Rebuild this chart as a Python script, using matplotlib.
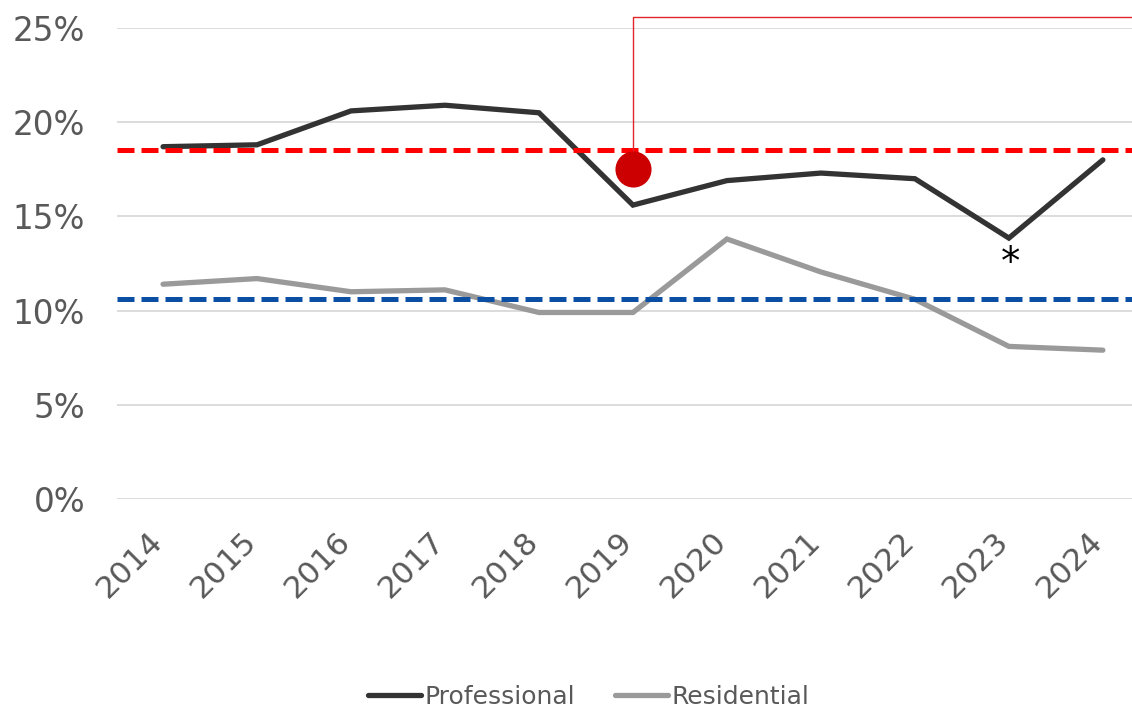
import matplotlib
matplotlib.use("Agg")
import matplotlib.pyplot as plt
import matplotlib.transforms as mtransforms
from matplotlib.ticker import FuncFormatter

years = ["2014", "2015", "2016", "2017", "2018", "2019", "2020", "2021", "2022", "2023", "2024"]
professional = [18.7, 18.8, 20.6, 20.9, 20.5, 15.6, 16.9, 17.3, 17.0, 13.85, 18.0]
residential = [11.4, 11.7, 11.0, 11.1, 9.9, 9.9, 13.8, 12.05, 10.6, 8.1, 7.9]
prof_avg = 18.55
res_avg = 10.6
highlight_idx = 5
highlight_val = 17.5
callout_top = 25.6
asterisk_idx = 9
yticks = [0, 5, 10, 15, 20, 25]

plt.rcParams['font.family'] = ['DejaVu Sans']
fig = plt.figure(figsize=(11.32, 7.07), dpi=100)
W, H = 1132, 707
ax = fig.add_axes([117 / W, (H - 499) / H, (1132 - 117) / W, (499 - 28) / H])

x = list(range(len(years)))
ax.set_xlim(-0.49, 10.31)
ax.set_ylim(0, 25)

for y in yticks:
    ax.axhline(y, color='#d9d9d9', lw=1.3, zorder=0)

ax.plot(x, professional, color='#333333', lw=3.8, solid_capstyle='round',
        solid_joinstyle='miter', label='Professional', zorder=3)
ax.plot(x, residential, color='#9a9a9a', lw=3.8, solid_capstyle='round',
        solid_joinstyle='miter', label='Residential', zorder=3)

ax.axhline(prof_avg, color='#ff0000', lw=3.6, dashes=(3.4, 1.4), zorder=4)
ax.axhline(res_avg, color='#0a4fa3', lw=3.6, dashes=(3.4, 1.4), zorder=4)

# callout line
ax.plot([highlight_idx, highlight_idx, 11.5], [highlight_val, callout_top, callout_top],
        color='#e3242b', lw=1.0, clip_on=False, zorder=5)
ax.plot([highlight_idx], [highlight_val], 'o', color='#cc0000', ms=26, mec='none', zorder=6)

ax.annotate('*', xy=(asterisk_idx, professional[asterisk_idx]), xytext=(1, -4),
            textcoords='offset points', ha='center', va='top', fontsize=28, color='black')

ax.set_yticks(yticks)
ax.yaxis.set_major_formatter(FuncFormatter(lambda v, p: f"{int(v)}%"))
ax.set_xticks(x)
ax.set_xticklabels(years, rotation=45, ha='right', va='center', rotation_mode='anchor')
ax.tick_params(axis='both', length=0, labelcolor='#595959')
ax.tick_params(axis='y', pad=23, labelsize=23.5)
ax.tick_params(axis='x', pad=27, labelsize=22.5)
offset = mtransforms.ScaledTranslation(-5 / 100, 0, fig.dpi_scale_trans)
for lab in ax.get_xticklabels():
    lab.set_transform(lab.get_transform() + offset)

for s in ax.spines.values():
    s.set_visible(False)

leg = fig.legend(loc='center', bbox_to_anchor=(0.52, (H - 697) / H), ncol=2, frameon=False,
                 fontsize=18, handlelength=2.1, handletextpad=0.15, columnspacing=1.6,
                 labelcolor='#595959')

fig.savefig('out.png', dpi=100)
